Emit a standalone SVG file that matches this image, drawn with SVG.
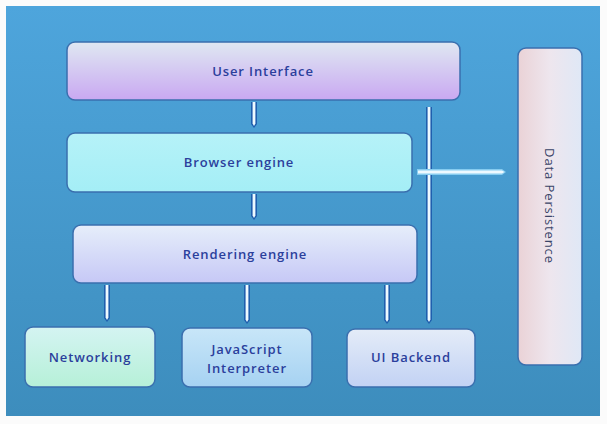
<svg xmlns="http://www.w3.org/2000/svg" width="607" height="424" viewBox="0 0 607 424">
  <defs>
    <linearGradient id="bg" x1="0" y1="0" x2="0" y2="1">
      <stop offset="0" stop-color="#4ea5dc"/>
      <stop offset="1" stop-color="#3d8dbd"/>
    </linearGradient>
    <linearGradient id="gUI" x1="0" y1="0" x2="0" y2="1">
      <stop offset="0" stop-color="#dfe8f2"/>
      <stop offset="1" stop-color="#c9a8f2"/>
    </linearGradient>
    <linearGradient id="gBE" x1="0" y1="0" x2="0" y2="1">
      <stop offset="0" stop-color="#b6f2f8"/>
      <stop offset="1" stop-color="#a4eef6"/>
    </linearGradient>
    <linearGradient id="gRE" x1="0" y1="0" x2="0" y2="1">
      <stop offset="0" stop-color="#e6eefa"/>
      <stop offset="1" stop-color="#c6c8f6"/>
    </linearGradient>
    <linearGradient id="gNW" x1="0" y1="0" x2="0" y2="1">
      <stop offset="0" stop-color="#d4f4f2"/>
      <stop offset="1" stop-color="#b6f0d8"/>
    </linearGradient>
    <linearGradient id="gJS" x1="0" y1="0" x2="0" y2="1">
      <stop offset="0" stop-color="#c8e6f8"/>
      <stop offset="1" stop-color="#a6d2f2"/>
    </linearGradient>
    <linearGradient id="gUB" x1="0" y1="0" x2="0" y2="1">
      <stop offset="0" stop-color="#e4ecf8"/>
      <stop offset="1" stop-color="#c2d2f4"/>
    </linearGradient>
    <linearGradient id="gDP" x1="0" y1="0" x2="1" y2="0">
      <stop offset="0" stop-color="#ead2d6"/>
      <stop offset="0.5" stop-color="#eee6ee"/>
      <stop offset="1" stop-color="#dfe8f6"/>
    </linearGradient>
  </defs>
  <style>
    .box { stroke: #3a6fae; stroke-width: 1.5; }
    .lbl { font-family: "Open Sans", "Noto Sans", "Liberation Sans", sans-serif; font-size: 13px; font-weight: 600; letter-spacing: 0.9px; fill: #2b3f9c; text-anchor: middle; }
    .out { fill: #1f5fae; }
    .in { fill: #eef9ff; }
    .glow { fill: #86ccf0; }
  </style>

  <rect x="0" y="0" width="607" height="424" fill="#fbfbfb"/>
  <rect x="6" y="6" width="594" height="410" fill="url(#bg)"/>

  <g id="connectors">
    <!-- User Interface -> Browser engine -->
    <path class="out" d="M251,102 H257 V124 L254,128 L251,124 Z"/>
    <path class="in" d="M252.6,102 H255.4 V123.5 L254,126 L252.6,123.5 Z"/>
    <!-- Browser engine -> Rendering engine -->
    <path class="out" d="M251,194 H257 V216 L254,220 L251,216 Z"/>
    <path class="in" d="M252.6,194 H255.4 V215.5 L254,218 L252.6,215.5 Z"/>
    <!-- Rendering engine -> Networking -->
    <path class="out" d="M104,285 H110 V318 L107,322 L104,318 Z"/>
    <path class="in" d="M105.6,285 H108.4 V317.5 L107,320 L105.6,317.5 Z"/>
    <!-- Rendering engine -> JavaScript Interpreter -->
    <path class="out" d="M244,285 H250 V320 L247,324 L244,320 Z"/>
    <path class="in" d="M245.6,285 H248.4 V319.5 L247,322 L245.6,319.5 Z"/>
    <!-- Rendering engine -> UI Backend -->
    <path class="out" d="M384,285 H390 V320 L387,324 L384,320 Z"/>
    <path class="in" d="M385.6,285 H388.4 V319.5 L387,322 L385.6,319.5 Z"/>
    <!-- User Interface -> UI Backend -->
    <path class="out" d="M426,107 H432 V320 L429,324 L426,320 Z"/>
    <path class="in" d="M427.6,107 H430.4 V319.5 L429,322 L427.6,319.5 Z"/>
    <!-- Browser engine -> Data Persistence -->
    <path class="glow" d="M417,169 H502 L506,172 L502,175 H417 Z"/>
    <path class="in" d="M418,170.6 H502 L504.5,172 L502,173.4 H418 Z"/>
  </g>

  <g id="user-interface">
    <rect class="box" x="67" y="42" width="393" height="58" rx="8" fill="url(#gUI)"/>
    <text class="lbl" x="263" y="76">User Interface</text>
  </g>
  <g id="browser-engine">
    <rect class="box" x="67" y="133" width="345" height="59" rx="8" fill="url(#gBE)"/>
    <text class="lbl" x="239" y="167">Browser engine</text>
  </g>
  <g id="rendering-engine">
    <rect class="box" x="73" y="225" width="344" height="58" rx="8" fill="url(#gRE)"/>
    <text class="lbl" x="245" y="259">Rendering engine</text>
  </g>
  <g id="networking">
    <rect class="box" x="25" y="327" width="130" height="60" rx="8" fill="url(#gNW)"/>
    <text class="lbl" x="90" y="362">Networking</text>
  </g>
  <g id="javascript-interpreter">
    <rect class="box" x="182" y="328" width="130" height="59" rx="8" fill="url(#gJS)"/>
    <text class="lbl" x="247" y="354">JavaScript</text>
    <text class="lbl" x="247" y="373">Interpreter</text>
  </g>
  <g id="ui-backend">
    <rect class="box" x="347" y="329" width="128" height="58" rx="8" fill="url(#gUB)"/>
    <text class="lbl" x="411" y="362">UI Backend</text>
  </g>
  <g id="data-persistence">
    <rect class="box" x="518" y="48" width="64" height="317" rx="8" fill="url(#gDP)"/>
    <text class="lbl" x="0" y="0" transform="translate(545,206) rotate(90)" style="font-weight:500;fill:#3a4468">Data Persistence</text>
  </g>
</svg>
